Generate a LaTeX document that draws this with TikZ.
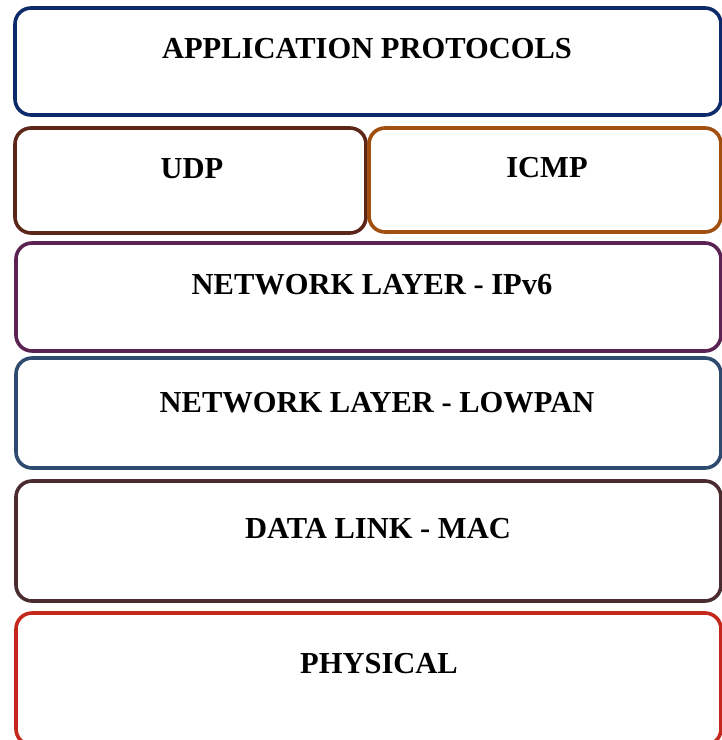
\documentclass[tikz,border=0pt]{standalone}
\usepackage{fontspec}
\setmainfont{Liberation Serif}
\definecolor{appblue}{HTML}{0D2B6B}
\definecolor{udpbrown}{HTML}{5C2618}
\definecolor{icmporange}{HTML}{A04F0E}
\definecolor{ipvpurple}{HTML}{5A2352}
\definecolor{lowblue}{HTML}{2E4A6E}
\definecolor{macbrown}{HTML}{4A2C30}
\definecolor{phyred}{HTML}{C4281C}
\begin{document}
\begin{tikzpicture}[x=1pt,y=-1pt,
  layer/.style={line width=3.6pt,rounded corners=16pt,fill=white},
  lbl/.style={anchor=base,font=\fontsize{30.5}{33}\selectfont\bfseries,inner sep=0pt}]
\useasboundingbox (0,0) rectangle (722,740);
\begin{scope}
\clip (0,0) rectangle (722,740);
% layer boxes, top to bottom
\draw[layer,draw=appblue]    (15,8)   rectangle (721,115);
\draw[layer,draw=udpbrown]   (15,128) rectangle (366,233);
\draw[layer,draw=icmporange] (369,128) rectangle (721,232);
\draw[layer,draw=ipvpurple]  (16,243) rectangle (721,351);
\draw[layer,draw=lowblue]    (16,358) rectangle (721,468);
\draw[layer,draw=macbrown]   (16,481) rectangle (721,601);
\draw[layer,draw=phyred]     (16,613) rectangle (721,745);
\end{scope}
% layer names
\node[lbl] (app)  at (367,58)  {APPLICATION PROTOCOLS};
\node[lbl] (udp)  at (192,178) {UDP};
\node[lbl] (icmp) at (547,177) {ICMP};
\node[lbl] (ipv6) at (372,294) {NETWORK LAYER - IPv6};
\node[lbl] (low)  at (377,412) {NETWORK LAYER - LOWPAN};
\node[lbl] (mac)  at (378,538) {DATA LINK - MAC};
\node[lbl] (phy)  at (379,673) {PHYSICAL};
\end{tikzpicture}
\end{document}
